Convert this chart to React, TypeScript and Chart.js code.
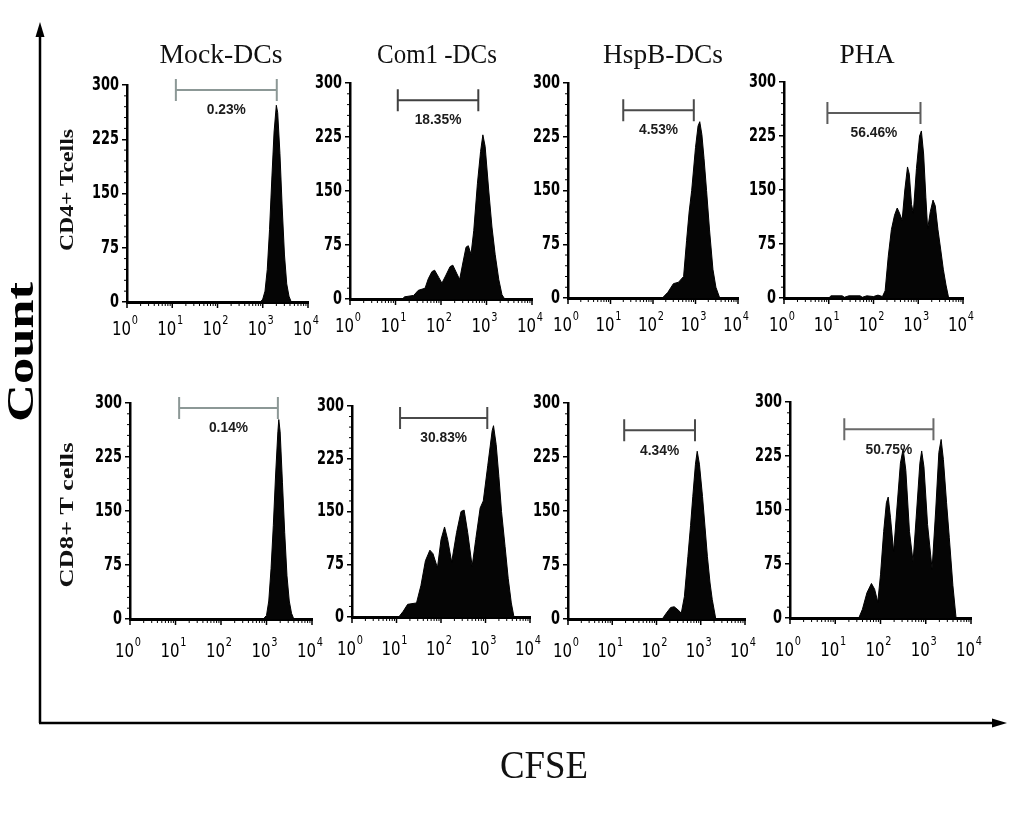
import React, { useEffect, useRef } from "react";
import { Chart, registerables } from "chart.js";
Chart.register(...registerables);

// ---------- text ----------
const columnTitles = ["Mock-DCs", "Com1 -DCs", "HspB-DCs", "PHA"];
const rowLabels = ["CD4+ Tcells", "CD8+ T cells"];
const yAxisTitle = "Count";
const xAxisTitle = "CFSE";

// ---------- axes ----------
const yTickValues = [0, 75, 150, 225, 300];
const yTickStep = 75;
const yMax = 300;
const xDecades = [0, 1, 2, 3, 4]; // log10(CFSE)
const xTickExponents = ["0", "1", "2", "3", "4"];

// ---------- histograms (x = log10 CFSE, y = count) ----------
const mockCD4X = [2.95, 3.0, 3.05, 3.1, 3.15, 3.2, 3.25, 3.3, 3.33, 3.38, 3.43, 3.48, 3.53, 3.58, 3.63];
const mockCD4Y = [0, 4, 15, 45, 100, 170, 235, 272, 262, 205, 130, 65, 25, 8, 0];

const com1CD4X = [1.15, 1.2, 1.4, 1.5, 1.65, 1.72, 1.8, 1.86, 1.95, 2.02, 2.1, 2.2, 2.26, 2.35, 2.41, 2.48, 2.55, 2.6, 2.66, 2.72, 2.8, 2.87, 2.92, 2.97, 3.05, 3.12, 3.19, 3.27, 3.34, 3.4];
const com1CD4Y = [0, 3, 5, 12, 15, 28, 38, 40, 30, 22, 32, 45, 47, 35, 27, 50, 72, 74, 62, 95, 160, 205, 228, 212, 150, 100, 62, 27, 6, 0];

const hspbCD4X = [2.22, 2.35, 2.48, 2.6, 2.72, 2.79, 2.85, 2.91, 3.0, 3.06, 3.1, 3.15, 3.2, 3.26, 3.33, 3.41, 3.48, 3.57];
const hspbCD4Y = [0, 8, 20, 22, 30, 80, 120, 150, 210, 240, 246, 228, 195, 150, 95, 40, 15, 0];

const phaCD4X = [1.0, 1.05, 1.3, 1.35, 1.45, 1.7, 1.75, 1.85, 2.0, 2.1, 2.2, 2.26, 2.33, 2.4, 2.47, 2.53, 2.58, 2.64, 2.7, 2.76, 2.8, 2.85, 2.89, 2.96, 3.03, 3.07, 3.12, 3.17, 3.21, 3.27, 3.33, 3.38, 3.44, 3.5, 3.56, 3.62, 3.68];
const phaCD4Y = [0, 3, 3, 1, 3, 3, 1, 3, 2, 4, 2, 10, 58, 95, 115, 125, 118, 108, 150, 182, 172, 130, 118, 180, 225, 232, 200, 140, 96, 120, 136, 128, 95, 68, 40, 18, 0];

const mockCD8X = [2.93, 3.0, 3.05, 3.1, 3.15, 3.2, 3.25, 3.27, 3.3, 3.35, 3.4, 3.45, 3.5, 3.55, 3.6];
const mockCD8Y = [0, 5, 25, 70, 130, 200, 260, 277, 260, 190, 120, 60, 25, 8, 0];

const com1CD8X = [1.05, 1.15, 1.25, 1.45, 1.55, 1.65, 1.75, 1.82, 1.92, 2.0, 2.08, 2.15, 2.24, 2.35, 2.45, 2.52, 2.6, 2.7, 2.78, 2.88, 2.95, 3.05, 3.15, 3.18, 3.24, 3.3, 3.36, 3.44, 3.51, 3.58, 3.64];
const com1CD8Y = [0, 8, 18, 20, 45, 80, 95, 90, 70, 110, 128, 110, 78, 120, 150, 152, 120, 72, 110, 155, 165, 215, 265, 272, 245, 200, 150, 100, 55, 20, 0];

const hspbCD8X = [2.13, 2.22, 2.32, 2.4, 2.5, 2.56, 2.63, 2.71, 2.77, 2.82, 2.88, 2.92, 2.97, 3.04, 3.1, 3.15, 3.21, 3.26, 3.34];
const hspbCD8Y = [0, 8, 16, 17, 12, 8, 31, 87, 130, 170, 215, 233, 215, 170, 125, 87, 50, 27, 0];

const phaCD8X = [1.52, 1.6, 1.7, 1.8, 1.87, 1.94, 2.0, 2.07, 2.13, 2.17, 2.22, 2.29, 2.36, 2.44, 2.5, 2.56, 2.64, 2.72, 2.8, 2.87, 2.91, 2.96, 3.04, 3.14, 3.22, 3.29, 3.34, 3.39, 3.46, 3.52, 3.6, 3.67];
const phaCD8Y = [0, 12, 35, 48, 40, 22, 60, 120, 160, 168, 140, 92, 150, 215, 235, 205, 120, 78, 150, 215, 232, 210, 130, 68, 150, 230, 248, 220, 160, 112, 45, 0];

const histX = [mockCD4X, com1CD4X, hspbCD4X, phaCD4X, mockCD8X, com1CD8X, hspbCD8X, phaCD8X];
const histY = [mockCD4Y, com1CD4Y, hspbCD4Y, phaCD4Y, mockCD8Y, com1CD8Y, hspbCD8Y, phaCD8Y];

// ---------- gates (log10 CFSE range, count level, percentage) ----------
const gateLabels = ["0.23%", "18.35%", "4.53%", "56.46%", "0.14%", "30.83%", "4.34%", "50.75%"];
const gateStart = [1.08, 1.05, 1.3, 0.97, 1.08, 1.08, 1.27, 1.2];
const gateEnd = [3.31, 2.82, 2.96, 3.05, 3.25, 3.04, 2.87, 3.17];
const gateLevel = [293, 276, 262, 257, 293, 283, 262, 262];

// ---------- layout / style ----------
const plotBoxes = [
  [127, 85, 308, 302], [350, 83, 532, 299], [568, 83, 738, 298], [784, 82, 963, 298],
  [130, 403, 312, 619], [352, 406, 530, 617], [568, 403, 745, 619], [790, 402, 971, 618],
];
const gateColors = ["#8c9896", "#404040", "#4a4a4a", "#5c5c5c", "#8c9896", "#4a4a4a", "#4a4a4a", "#6a6a6a"];
const labelOffsets = [33, 33, 33, 33, 38, 38, 38, 38];
const PAD_L = 60, PAD_R = 25, PAD_T = 20, PAD_B = 55;
const TICKFONT = "'DejaVu Sans', 'Liberation Sans', sans-serif";
const SANS = "'Liberation Sans', Arial, sans-serif";
const SERIF = "'Liberation Serif', 'Times New Roman', serif";

const gatePlugin = {
  id: "gate",
  afterDatasetsDraw(chart: any, _args: any, opts: any) {
    const { ctx } = chart;
    const xs = chart.scales.x, ys = chart.scales.y;
    const x1 = xs.getPixelForValue(opts.start);
    const x2 = xs.getPixelForValue(opts.end);
    const py = ys.getPixelForValue(opts.level);
    ctx.save();
    ctx.strokeStyle = opts.color;
    ctx.lineWidth = 2;
    ctx.beginPath();
    ctx.moveTo(x1, py); ctx.lineTo(x2, py);
    ctx.moveTo(x1, py - 11); ctx.lineTo(x1, py + 11);
    ctx.moveTo(x2, py - 11); ctx.lineTo(x2, py + 11);
    ctx.stroke();
    ctx.fillStyle = "#1c1c1c";
    ctx.font = `bold 15px ${SANS}`;
    ctx.textAlign = "center";
    ctx.textBaseline = "middle";
    ctx.translate((x1 + x2) / 2, py + 20);
    ctx.scale(0.92, 1);
    ctx.fillText(opts.label, 0, 0);
    ctx.restore();
  },
};

const decoPlugin = {
  id: "deco",
  afterDraw(chart: any, _args: any, opts: any) {
    const { ctx, chartArea: a } = chart;
    const xs = chart.scales.x, ys = chart.scales.y;
    ctx.save();
    ctx.strokeStyle = "#000";
    // minor log ticks on x
    ctx.lineWidth = 1;
    ctx.beginPath();
    for (let d = 0; d < 4; d++) {
      for (let m = 2; m <= 9; m++) {
        const px = xs.getPixelForValue(d + Math.log10(m));
        ctx.moveTo(px, a.bottom); ctx.lineTo(px, a.bottom + 4);
      }
    }
    // minor y ticks
    for (let v = 15; v < yMax; v += 15) {
      if (v % yTickStep === 0) continue;
      const py = ys.getPixelForValue(v);
      ctx.moveTo(a.left - 3, py); ctx.lineTo(a.left, py);
    }
    ctx.stroke();
    // major x ticks
    ctx.lineWidth = 1.5;
    ctx.beginPath();
    xDecades.forEach((d) => {
      const px = xs.getPixelForValue(d);
      ctx.moveTo(px, a.bottom); ctx.lineTo(px, a.bottom + 6);
    });
    ctx.stroke();
    ctx.fillStyle = "#000";
    // y labels (condensed bold)
    ctx.textAlign = "right";
    ctx.textBaseline = "middle";
    ctx.font = `bold 19px ${TICKFONT}`;
    yTickValues.forEach((v) => {
      const py = ys.getPixelForValue(v);
      ctx.save();
      ctx.translate(a.left - 8, py);
      ctx.scale(0.68, 1);
      ctx.fillText(String(v), 0, 0);
      ctx.restore();
    });
    // x labels 10^n (condensed)
    ctx.textBaseline = "alphabetic";
    ctx.textAlign = "left";
    const sx = 0.75;
    xDecades.forEach((d, i) => {
      const px = xs.getPixelForValue(d);
      ctx.font = `20px ${TICKFONT}`;
      const w1 = ctx.measureText("10").width;
      ctx.font = `13px ${TICKFONT}`;
      const w2 = ctx.measureText(xTickExponents[i]).width;
      const total = (w1 + w2 + 1) * sx;
      const base = a.bottom + opts.offset;
      ctx.save();
      ctx.translate(px - total / 2 - 2, base);
      ctx.scale(sx, 1);
      ctx.font = `20px ${TICKFONT}`;
      ctx.fillText("10", 0, 0);
      ctx.font = `13px ${TICKFONT}`;
      ctx.fillText(xTickExponents[i], w1 + 1, -11);
      ctx.restore();
    });
    ctx.restore();
  },
};

function makeConfig(i: number): any {
  return {
    type: "line",
    data: {
      datasets: [
        {
          data: histX[i].map((x, k) => ({ x, y: histY[i][k] })),
          borderColor: "#000",
          backgroundColor: "#050505",
          borderWidth: 1,
          fill: "origin",
          pointRadius: 0,
          tension: 0,
        },
      ],
    },
    options: {
      responsive: false,
      animation: false,
      events: [],
      layout: { padding: { left: 0, top: PAD_T, right: PAD_R, bottom: 0 } },
      plugins: {
        legend: { display: false },
        tooltip: { enabled: false },
        gate: { start: gateStart[i], end: gateEnd[i], level: gateLevel[i], label: gateLabels[i], color: gateColors[i] },
        deco: { offset: labelOffsets[i] },
      },
      scales: {
        x: {
          type: "linear",
          min: 0,
          max: 4,
          ticks: { display: false },
          grid: { display: false },
          border: { color: "#000", width: 3 },
          afterFit: (s: any) => { s.height = PAD_B; },
        },
        y: {
          min: 0,
          max: yMax,
          ticks: { stepSize: yTickStep, display: false },
          grid: { drawOnChartArea: false, drawTicks: true, color: "#000", tickLength: 5, lineWidth: 1.5 },
          border: { color: "#000", width: 2.5 },
          afterFit: (s: any) => { s.width = PAD_L; },
        },
      },
    },
    plugins: [gatePlugin, decoPlugin],
  };
}

const titleCenters = [221, 437, 663, 867];
const titleLengths = [123, 120, 120, 55];

export default function App() {
  const refs = useRef<(HTMLCanvasElement | null)[]>([]);
  useEffect(() => {
    const charts = plotBoxes.map((_, i) => new Chart(refs.current[i] as HTMLCanvasElement, makeConfig(i)));
    return () => charts.forEach((c) => c.destroy());
  }, []);

  return (
    <div style={{ position: "absolute", left: 0, top: 0, width: 1011, height: 815, background: "#fff", overflow: "hidden" }}>
      {plotBoxes.map((b, i) => {
        const w = b[2] - b[0] + PAD_L + PAD_R;
        const h = b[3] - b[1] + PAD_T + PAD_B;
        return (
          <canvas
            key={i}
            ref={(el) => { refs.current[i] = el; }}
            width={w}
            height={h}
            style={{ position: "absolute", left: b[0] - PAD_L, top: b[1] - PAD_T, width: w, height: h }}
          />
        );
      })}
      <svg width={1011} height={815} style={{ position: "absolute", left: 0, top: 0, pointerEvents: "none" }}>
        <line x1={40} y1={723} x2={40} y2={34} stroke="#000" strokeWidth={2.5} />
        <polygon points="40,22 35.5,37 44.5,37" fill="#000" />
        <line x1={39} y1={723} x2={995} y2={723} stroke="#000" strokeWidth={2.5} />
        <polygon points="1007,723 992,718.5 992,727.5" fill="#000" />
        {columnTitles.map((t, i) => (
          <text key={t} x={titleCenters[i]} y={63} textAnchor="middle" fontFamily={SERIF} fontSize={27}
            textLength={titleLengths[i]} lengthAdjust="spacingAndGlyphs" fill="#111">{t}</text>
        ))}
        <text transform="translate(73,190) rotate(-90)" textAnchor="middle" fontFamily={SERIF} fontSize={19}
          fontWeight="bold" textLength={122} lengthAdjust="spacingAndGlyphs" fill="#111">{rowLabels[0]}</text>
        <text transform="translate(73,515) rotate(-90)" textAnchor="middle" fontFamily={SERIF} fontSize={19}
          fontWeight="bold" textLength={145} lengthAdjust="spacingAndGlyphs" fill="#111">{rowLabels[1]}</text>
        <text transform="translate(33,352) rotate(-90)" textAnchor="middle" fontFamily={SERIF} fontSize={38}
          fontWeight="bold" textLength={140} lengthAdjust="spacingAndGlyphs" fill="#000">{yAxisTitle}</text>
        <text x={544} y={778} textAnchor="middle" fontFamily={SERIF} fontSize={40}
          textLength={88} lengthAdjust="spacingAndGlyphs" fill="#111">{xAxisTitle}</text>
      </svg>
    </div>
  );
}
